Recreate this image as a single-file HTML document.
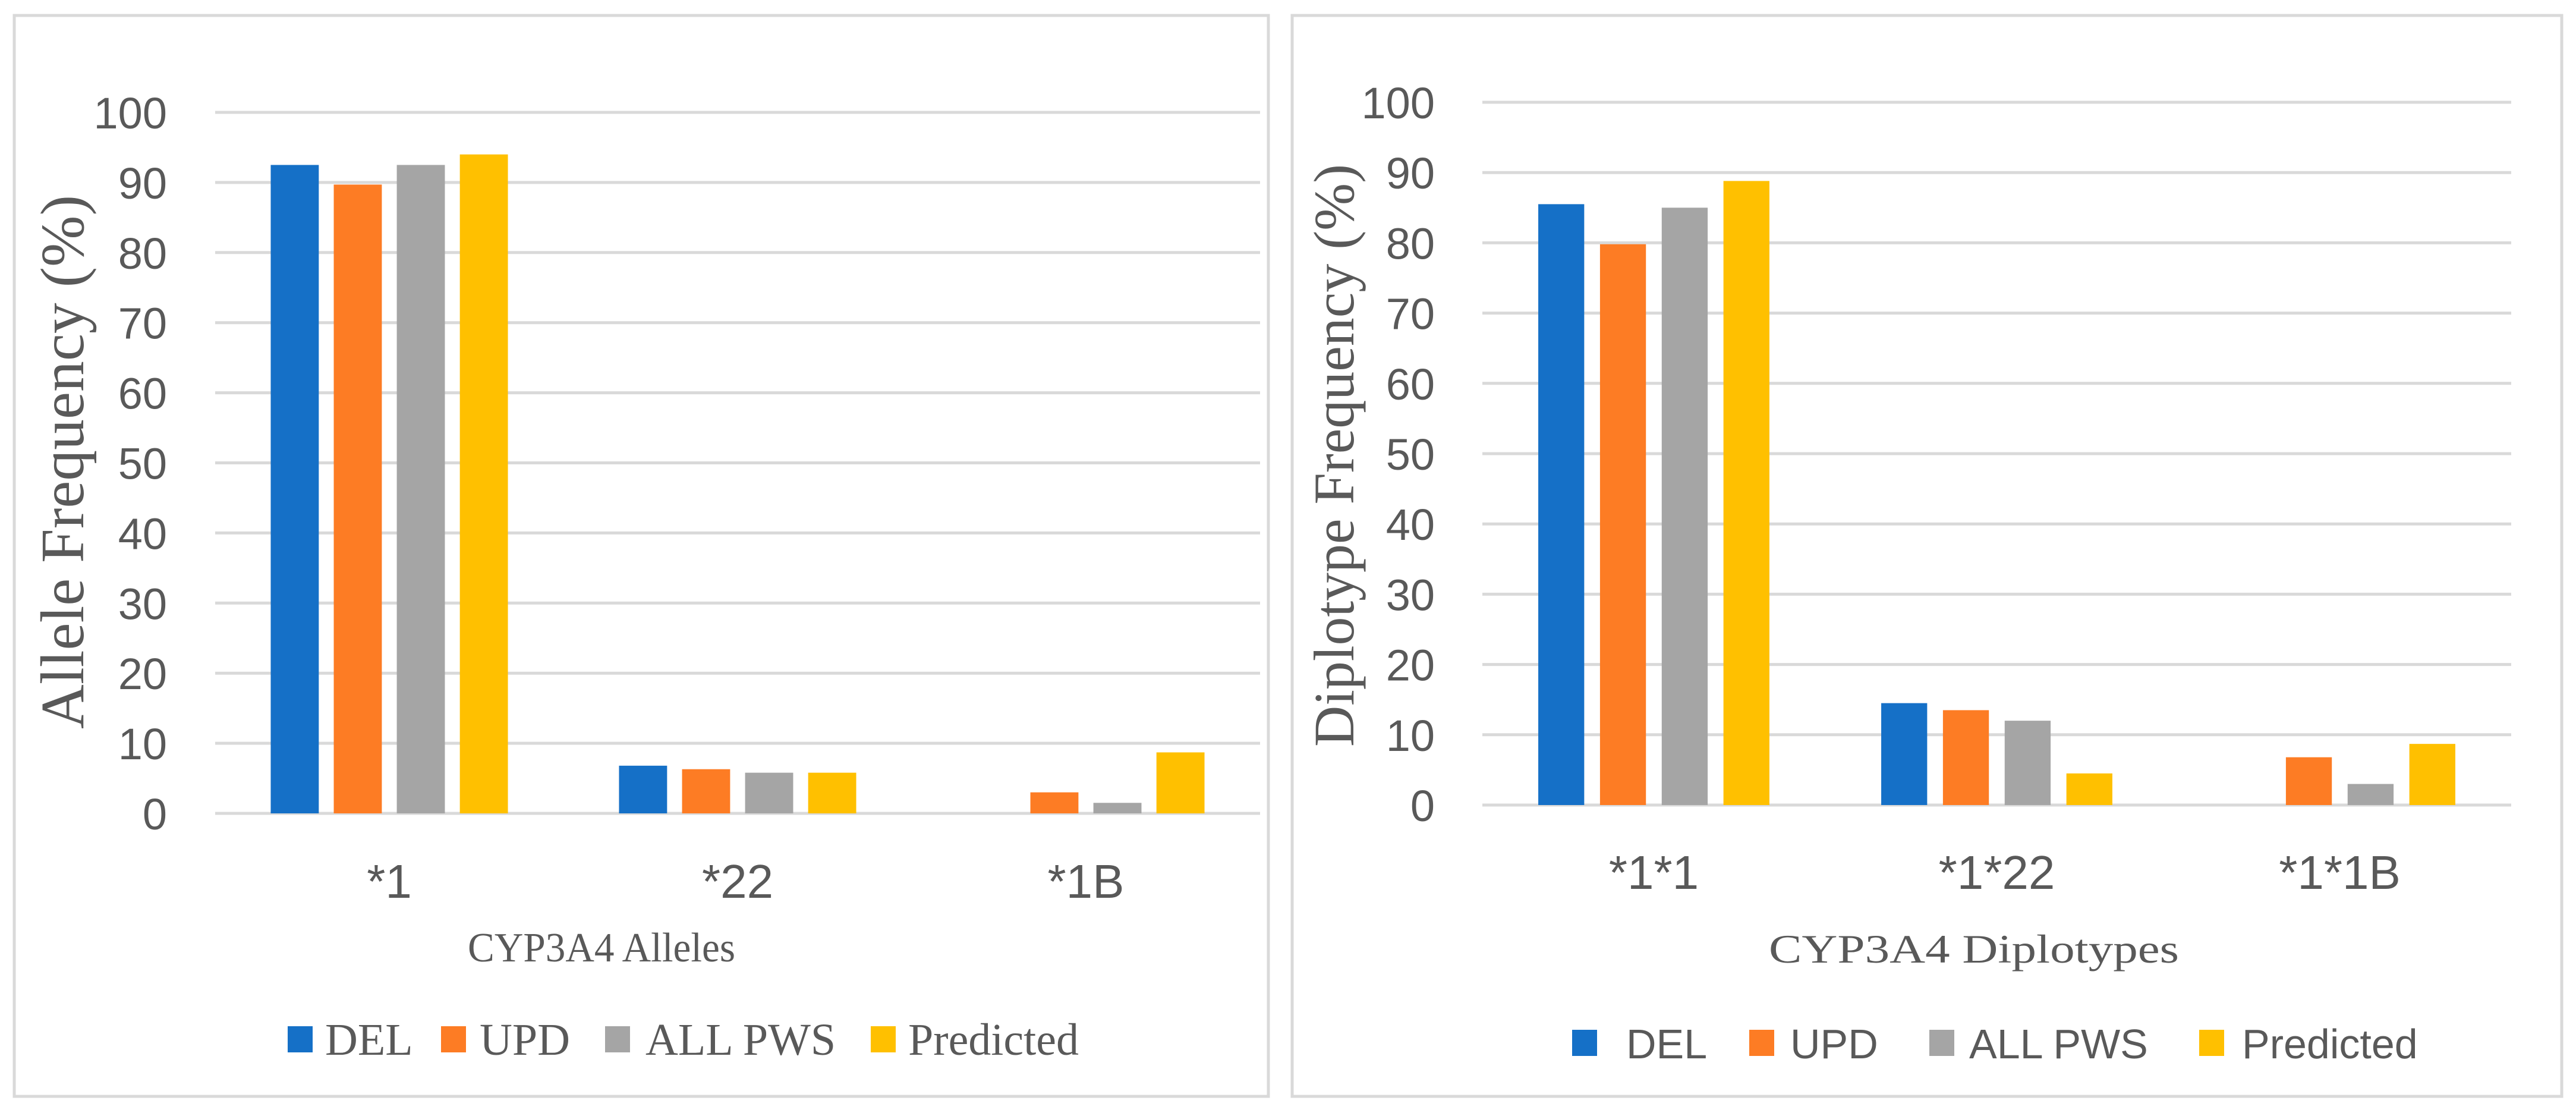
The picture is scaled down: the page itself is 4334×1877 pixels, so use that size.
<!DOCTYPE html>
<html><head><meta charset="utf-8">
<style>
html,body{margin:0;padding:0;background:#fff;}
svg{display:block;}
.tick{font-family:"Liberation Sans",sans-serif;font-size:74px;fill:#595959;}
.cat{font-family:"Liberation Sans",sans-serif;font-size:80px;fill:#595959;}
.ser{font-family:"Liberation Serif",serif;fill:#595959;}
.leg{font-family:"Liberation Sans",sans-serif;font-size:70px;fill:#595959;}
</style></head>
<body>
<svg id="root" width="4334" height="1877" viewBox="0 0 4334 1877" xmlns="http://www.w3.org/2000/svg">
<rect x="0" y="0" width="4334" height="1877" fill="#fff"/>
<rect x="24" y="26" width="2110" height="1818" fill="none" stroke="#d9d9d9" stroke-width="5"/>
<rect x="2174" y="26" width="2136" height="1818" fill="none" stroke="#d9d9d9" stroke-width="5"/>
<g id="left"></g>
<g id="right"></g>
<text class="ser" font-size="104" text-anchor="middle" textLength="898" lengthAdjust="spacingAndGlyphs" transform="translate(140,777) rotate(-90)">Allele Frequency (%)</text>
<text class="ser" font-size="96" text-anchor="middle" textLength="980" lengthAdjust="spacingAndGlyphs" transform="translate(2277,766) rotate(-90)">Diplotype Frequency (%)</text>
<text class="ser" x="1012" y="1617" font-size="70" text-anchor="middle" textLength="450" lengthAdjust="spacingAndGlyphs">CYP3A4 Alleles</text>
<text class="ser" x="3321" y="1619" font-size="68" text-anchor="middle" textLength="690" lengthAdjust="spacingAndGlyphs">CYP3A4 Diplotypes</text>
</svg>
<script>
const seriesNames = ["DEL", "UPD", "ALL PWS", "Predicted"];
const seriesColors = ["#1570c7", "#fd7c24", "#a5a5a5", "#ffc000"];
const yTicks = [0, 10, 20, 30, 40, 50, 60, 70, 80, 90, 100];
const alleleCategories = ["*1", "*22", "*1B"];
const alleleDEL = [92.5, 6.8, 0];
const alleleUPD = [89.7, 6.3, 3.0];
const alleleALL = [92.5, 5.8, 1.5];
const allelePred = [94.0, 5.8, 8.7];
const diploCategories = ["*1*1", "*1*22", "*1*1B"];
const diploDEL = [85.5, 14.5, 0];
const diploUPD = [79.8, 13.5, 6.8];
const diploALL = [85.0, 12.0, 3.0];
const diploPred = [88.8, 4.5, 8.7];

const NS = "http://www.w3.org/2000/svg";
function mk(tag, attrs, parent) {
  const e = document.createElementNS(NS, tag);
  for (const k in attrs) e.setAttribute(k, attrs[k]);
  parent.appendChild(e);
  return e;
}

function drawChart(g, cfg, cats, series, legendPos) {
  const yS = v => cfg.y0 - (v / 100) * (cfg.y0 - cfg.y100);
  const catW = (cfg.x1 - cfg.x0) / cats.length;
  const xS = i => cfg.x0 + catW * (i + 0.5);
  yTicks.forEach(t => {
    const ln = mk("line", {x1: cfg.x0, x2: cfg.x1, y1: yS(t), y2: yS(t), stroke: "#d9d9d9", "stroke-width": 5}, g);
    
    
    const tx = mk("text", {x: cfg.labelX, y: yS(t) + 27, "text-anchor": "end", class: "tick"}, g);
    tx.textContent = t;
    
    
  });
  const bw = catW * cfg.bwFrac, pitch = catW * cfg.pitchFrac;
  cats.forEach((c, i) => {
    const gw = pitch * 3 + bw;
    series.forEach((vals, s) => {
      const v = vals[i];
      if (v <= 0) return;
      const x = xS(i) - gw / 2 + s * pitch;
      const r = mk("rect", {x: x, y: yS(v), width: bw, height: yS(0) - yS(v), fill: seriesColors[s]}, g);
      
      
    });
    const tl = mk("text", {x: xS(i), y: cfg.catY, "text-anchor": "middle", class: "cat"}, g);
    tl.textContent = c;
    
    
  });
  seriesNames.forEach((n, s) => {
    const p = legendPos[s];
    const r = mk("rect", {x: p[0], y: cfg.legY - 22, width: 42, height: 44, fill: seriesColors[s]}, g);
    
    
    const t = mk("text", {x: p[1], y: cfg.legY + 26, class: cfg.legClass, "font-size": cfg.legSize}, g);
    t.textContent = n;
    
    
  });
}

drawChart(document.getElementById("left"),
  {x0: 362, x1: 2120, y0: 1368, y100: 189, labelX: 281, bwFrac: 0.138, pitchFrac: 0.181, catY: 1510, legY: 1748, legClass: "ser", legSize: 76},
  alleleCategories, [alleleDEL, alleleUPD, alleleALL, allelePred],
  [[484, 547], [742, 807], [1018, 1086], [1465, 1528]]);
drawChart(document.getElementById("right"),
  {x0: 2494, x1: 4225, y0: 1354, y100: 172, labelX: 2414, bwFrac: 0.134, pitchFrac: 0.18, catY: 1495, legY: 1754, legClass: "leg", legSize: 72},
  diploCategories, [diploDEL, diploUPD, diploALL, diploPred],
  [[2645, 2736], [2943, 3012], [3246, 3313], [3700, 3772]]);
</script>
</body></html>
